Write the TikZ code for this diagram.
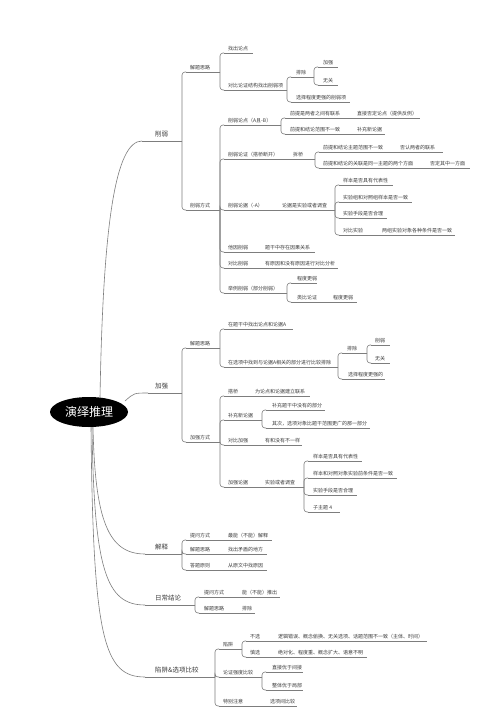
\documentclass[tikz,border=0pt]{standalone}
\usepackage{fontspec}
\usetikzlibrary{shapes.geometric}
\newfontfamily\cjk{Noto Sans CJK SC}
\definecolor{lncol}{RGB}{125,125,125}
\definecolor{txcol}{RGB}{60,60,60}
\tikzset{
  ln/.style={draw=lncol, line width=0.6pt},
  sm/.style={inner sep=0pt, text=txcol, font=\cjk\fontsize{5}{6}\selectfont},
  bg/.style={inner sep=0pt, text=txcol, font=\cjk\fontsize{6.5}{7.5}\selectfont},
  rootnode/.style={ellipse, fill=black, text=white, minimum width=78pt, minimum height=30pt, inner sep=0pt, font=\cjk\fontsize{12}{14}\selectfont}
}
\newcommand{\Rw}[6]{%
  \coordinate (#1-s) at (#2,#4); \coordinate (#1-e) at (#3,#4);
  \node[sm, anchor=base west] (#1) at (#5,#4-2.6) {#6};
  \draw[ln] (#1-s) -- (#1-e);}
\newcommand{\Rwb}[6]{%
  \coordinate (#1-s) at (#2,#4); \coordinate (#1-e) at (#3,#4);
  \node[bg, anchor=base west] (#1) at (#5,#4-4.5) {#6};
  \draw[ln] (#1-s) -- (#1-e);}
\newcommand{\Br}[2]{\draw[ln, rounded corners=3pt] (#1-e) |- (#2-s);}
\begin{document}
\begin{tikzpicture}[x=1pt, y=-1pt]
\useasboundingbox (0,0) rectangle (494,712);
\fill[white] (0,0) rectangle (494,712);

% root
\node[rootnode] (root) at (89,412) {演绎推理};

% level 1
\Rwb{xr}{142}{182}{141}{155}{削弱}
\Rwb{jq}{148}{182}{393}{155}{加强}
\Rwb{js}{145}{182}{554}{155}{解释}
\Rwb{rc}{145}{195}{605}{155}{日常结论}
\Rwb{xj}{145}{215}{677}{155}{陷阱\&选项比较}

\coordinate (r1) at (100,398);
\coordinate (r2) at (125,401);
\coordinate (r3) at (93,427);
\coordinate (r4) at (92,427);
\coordinate (r5) at (91,427);
\draw[ln] (r1) .. controls (103,220) and (116,141) .. (xr-s);
\draw[ln] (r2) .. controls (134,393) .. (jq-s);
\draw[ln] (r3) .. controls (95,520) and (108,554) .. (js-s);
\draw[ln] (r4) .. controls (94,570) and (106,605) .. (rc-s);
\draw[ln] (r5) .. controls (93,640) and (104,677) .. (xj-s);

% ---------- 削弱 ----------
\Rw{a1}{186}{220}{72}{190}{解题思路}
\Rw{a11}{224}{253}{53}{228}{找出论点}
\Rw{a12}{224}{287}{90}{228}{对比论证结构找出削弱项}
\Rw{a121}{291}{314}{77}{296}{排除}
\Rw{a1211}{318}{338}{67}{323}{加强}
\Rw{a1212}{318}{338}{85}{323}{无关}
\Rw{a122}{291}{350}{102}{296}{选择程度更强的削弱项}
\Rw{a2}{186}{220}{210}{190}{削弱方式}
\Rw{b1}{224}{281}{125}{228}{削弱论点（A且-B）}
\Rw{b11}{285}{352}{118}{290}{前提是两者之间有联系}
\Rw{b11x}{352}{420}{118}{357}{直接否定论点（提供反例）}
\Rw{b12}{285}{352}{134}{290}{前提和结论范围不一致}
\Rw{b12x}{352}{385}{134}{357}{补充新论据}
\Rw{b2}{224}{283}{159}{228}{削弱论证（搭桥断开）}
\Rw{b2x}{283}{315}{159}{293}{拆桥}
\Rw{b21}{319}{395}{152}{323}{前提和结论主题范围不一致}
\Rw{b21x}{395}{443}{152}{400}{否认两者的联系}
\Rw{b22}{319}{425}{168}{323}{前提和结论的关联是同一主题的两个方面}
\Rw{b22x}{425}{470}{168}{430}{否定其中一方面}
\Rw{b3}{224}{280}{210}{228}{削弱论据（-A）}
\Rw{b3x}{280}{335}{210}{282}{论据是实验或者调查}
\Rw{b31}{339}{393}{185}{343}{样本是否具有代表性}
\Rw{b32}{339}{412}{202}{343}{实验组和对照组样本是否一致}
\Rw{b33}{339}{387}{218}{343}{实验手段是否合理}
\Rw{b34}{339}{377}{235}{343}{对比实验}
\Rw{b34x}{377}{455}{235}{382}{两组实验对象各种条件是否一致}
\Rw{b4}{224}{260}{252}{228}{他因削弱}
\Rw{b4x}{260}{315}{252}{265}{题干中存在因果关系}
\Rw{b5}{224}{260}{268}{228}{对比削弱}
\Rw{b5x}{260}{338}{268}{265}{有原因和没有原因进行对比分析}
\Rw{b6}{224}{287}{293}{228}{举例削弱（部分削弱）}
\Rw{b61}{291}{317}{283}{297}{程度更弱}
\Rw{b62}{291}{328}{302}{297}{类比论证}
\Rw{b62x}{328}{357}{302}{333}{程度更弱}

\Br{xr}{a1} \Br{xr}{a2}
\Br{a1}{a11} \Br{a1}{a12}
\Br{a12}{a121} \Br{a12}{a122}
\Br{a121}{a1211} \Br{a121}{a1212}
\Br{a2}{b1} \Br{a2}{b2} \Br{a2}{b3} \Br{a2}{b4} \Br{a2}{b5} \Br{a2}{b6}
\Br{b1}{b11} \Br{b1}{b12}
\Br{b2x}{b21} \Br{b2x}{b22}
\Br{b3x}{b31} \Br{b3x}{b32} \Br{b3x}{b33} \Br{b3x}{b34}
\Br{b6}{b61} \Br{b6}{b62}

% ---------- 加强 ----------
\Rw{c1}{186}{220}{348}{190}{解题思路}
\Rw{c11}{224}{293}{329}{228}{在题干中找出论点和论据A}
\Rw{c12}{224}{338}{367}{228}{在选项中找到与论据A相关的部分进行比较排除}
\Rw{c121}{342}{367}{353}{347}{排除}
\Rw{c1211}{371}{390}{345}{375}{削弱}
\Rw{c1212}{371}{390}{363}{375}{无关}
\Rw{c122}{342}{385}{379}{348}{选择程度更强的}
\Rw{c2}{186}{220}{442}{190}{加强方式}
\Rw{d1}{224}{250}{396}{228}{搭桥}
\Rw{d1x}{250}{310}{396}{255}{为论点和论据建立联系}
\Rw{d2}{224}{262}{420}{228}{补充新论据}
\Rw{d21}{266}{325}{410}{272}{补充题干中没有的部分}
\Rw{d22}{266}{370}{428}{272}{其次，选项对象比题干范围更广的那一部分}
\Rw{d3}{224}{260}{445}{228}{对比加强}
\Rw{d3x}{260}{302}{445}{265}{有和没有不一样}
\Rw{d4}{224}{260}{487}{228}{加强论据}
\Rw{d4x}{260}{304}{487}{265}{实验或者调查}
\Rw{d41}{308}{362}{461}{313}{样本是否具有代表性}
\Rw{d42}{308}{397}{478}{313}{样本和对照对象实验前条件是否一致}
\Rw{d43}{308}{357}{495}{313}{实验手段是否合理}
\Rw{d44}{308}{340}{512}{313}{子主题 4}

\Br{jq}{c1} \Br{jq}{c2}
\Br{c1}{c11} \Br{c1}{c12}
\Br{c12}{c121} \Br{c12}{c122}
\Br{c121}{c1211} \Br{c121}{c1212}
\Br{c2}{d1} \Br{c2}{d2} \Br{c2}{d3} \Br{c2}{d4}
\Br{d2}{d21} \Br{d2}{d22}
\Br{d4x}{d41} \Br{d4x}{d42} \Br{d4x}{d43} \Br{d4x}{d44}

% ---------- 解释 ----------
\Rw{e1}{186}{224}{540}{190}{提问方式}
\Rw{e1x}{224}{272}{540}{228}{最能（不能）解释}
\Rw{e2}{186}{224}{554}{190}{解题思路}
\Rw{e2x}{224}{267}{554}{228}{找出矛盾的地方}
\Rw{e3}{186}{224}{570}{190}{答题原则}
\Rw{e3x}{224}{267}{570}{228}{从原文中找原因}
\Br{js}{e1} \Br{js}{e2} \Br{js}{e3}

% ---------- 日常结论 ----------
\Rw{f1}{199}{238}{597}{204}{提问方式}
\Rw{f1x}{238}{280}{597}{242}{能（不能）推出}
\Rw{f2}{199}{238}{613}{204}{解题思路}
\Rw{f2x}{238}{255}{613}{242}{排除}
\Br{rc}{f1} \Br{rc}{f2}

% ---------- 陷阱&选项比较 ----------
\Rw{g1}{219}{242}{649}{223}{陷阱}
\Rw{g11}{246}{274}{641}{250}{不选}
\Rw{g11x}{274}{427}{641}{278}{逻辑错误、概念偷换、无关选项、话题范围不一致（主体、时间）}
\Rw{g12}{246}{274}{657}{250}{慎选}
\Rw{g12x}{274}{367}{657}{278}{绝对化、程度重、概念扩大、语意不明}
\Rw{g2}{219}{262}{677}{223}{论证强度比较}
\Rw{g21}{266}{303}{672}{272}{直接优于间接}
\Rw{g22}{266}{303}{690}{272}{整体优于局部}
\Rw{g3}{219}{266}{706}{223}{特别注意}
\Rw{g3x}{266}{297}{706}{270}{选项间比较}
\Br{xj}{g1} \Br{xj}{g2} \Br{xj}{g3}
\Br{g1}{g11} \Br{g1}{g12}
\Br{g2}{g21} \Br{g2}{g22}
\end{tikzpicture}
\end{document}
